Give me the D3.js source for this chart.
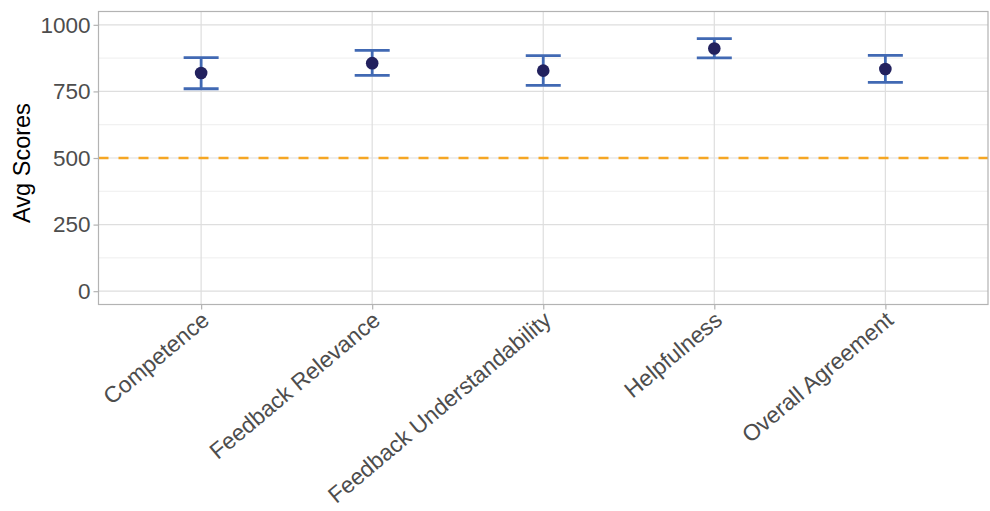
<!DOCTYPE html>
<html>
<head>
<meta charset="utf-8">
<script src="https://cdn.jsdelivr.net/npm/d3@7"></script>
<style>
  body { margin: 0; background: #fff; }
  svg { display: block; font-family: "Liberation Sans", Arial, sans-serif; }
</style>
</head>
<body>
<svg width="990" height="511"></svg>
<script>
// data
const categories = ['Competence', 'Feedback Relevance', 'Feedback Understandability', 'Helpfulness', 'Overall Agreement'];
const means = [819, 856, 828, 911, 834];
const lower = [760, 810, 773, 876, 784];
const upper = [877, 904, 884, 948, 885];
const yTicks = [0, 250, 500, 750, 1000];
const minorTicks = [125, 375, 625, 875];
const threshold = 500;

const svg = d3.select('svg');
const margin = {left: 98.5, right: 2, top: 11.5, bottom: 206.5};
const W = 990, H = 511;

// discrete x positions
const xp = d3.scalePoint()
    .domain(categories)
    .range([margin.left, W - margin.right])
    .padding(0.6);

const y = d3.scaleLinear()
    .domain([-50, 1050])
    .range([H - margin.bottom, margin.top]);

const rows = categories.map((c, i) => ({cat: c, mean: means[i], lo: lower[i], hi: upper[i]}));

// grid
const grid = svg.append('g');
grid.selectAll('line.minor').data(minorTicks).enter().append('line')
    .attr('x1', margin.left).attr('x2', W - margin.right)
    .attr('y1', d => y(d)).attr('y2', d => y(d))
    .attr('stroke', '#ececec').attr('stroke-width', 0.9);
grid.selectAll('line.major').data(yTicks).enter().append('line')
    .attr('x1', margin.left).attr('x2', W - margin.right)
    .attr('y1', d => y(d)).attr('y2', d => y(d))
    .attr('stroke', '#dedede').attr('stroke-width', 1.2);
grid.selectAll('line.vx').data(categories).enter().append('line')
    .attr('x1', d => xp(d)).attr('x2', d => xp(d))
    .attr('y1', margin.top).attr('y2', H - margin.bottom)
    .attr('stroke', '#dedede').attr('stroke-width', 1.2);

// threshold line
svg.append('line')
    .attr('x1', margin.left).attr('x2', W - margin.right)
    .attr('y1', y(threshold)).attr('y2', y(threshold))
    .attr('stroke', '#f5a623').attr('stroke-width', 2.6)
    .attr('stroke-dasharray', '10,10');

// error bars
const capW = 17.5;
const eb = svg.append('g').attr('stroke', '#4169b3').attr('stroke-width', 2.8);
eb.selectAll('line.v').data(rows).enter().append('line')
    .attr('x1', d => xp(d.cat)).attr('x2', d => xp(d.cat))
    .attr('y1', d => y(d.lo)).attr('y2', d => y(d.hi));
eb.selectAll('line.hi').data(rows).enter().append('line')
    .attr('x1', d => xp(d.cat) - capW).attr('x2', d => xp(d.cat) + capW)
    .attr('y1', d => y(d.hi)).attr('y2', d => y(d.hi));
eb.selectAll('line.lo').data(rows).enter().append('line')
    .attr('x1', d => xp(d.cat) - capW).attr('x2', d => xp(d.cat) + capW)
    .attr('y1', d => y(d.lo)).attr('y2', d => y(d.lo));

// points
svg.selectAll('circle').data(rows).enter().append('circle')
    .attr('cx', d => xp(d.cat)).attr('cy', d => y(d.mean))
    .attr('r', 6.3).attr('fill', '#22215e');

// panel border
svg.append('rect')
    .attr('x', margin.left).attr('y', margin.top)
    .attr('width', W - margin.right - margin.left)
    .attr('height', H - margin.bottom - margin.top)
    .attr('fill', 'none').attr('stroke', '#b3b3b3').attr('stroke-width', 1.2);

// y axis
const yAxis = svg.append('g')
    .attr('transform', `translate(${margin.left},0)`)
    .call(d3.axisLeft(y).tickValues(yTicks).tickFormat(d3.format('d')).tickSize(5).tickPadding(3));
yAxis.attr('font-size', null).attr('font-family', null);
yAxis.select('.domain').remove();
yAxis.selectAll('.tick line').attr('stroke', '#b3b3b3').attr('stroke-width', 1.2);
yAxis.selectAll('.tick text').attr('fill', '#4d4d4d').style('font-size', '22.5px');

// x axis
const xAxis = svg.append('g')
    .attr('transform', `translate(0,${H - margin.bottom})`)
    .call(d3.axisBottom(xp).tickSize(5).tickPadding(3));
xAxis.attr('font-size', null).attr('font-family', null);
xAxis.select('.domain').remove();
xAxis.selectAll('.tick line').attr('stroke', '#b3b3b3').attr('stroke-width', 1.2);
xAxis.selectAll('.tick text')
    .attr('fill', '#4d4d4d').style('font-size', '22.8px')
    .attr('text-anchor', 'end')
    .attr('x', 0).attr('y', 0).attr('dy', null)
    .attr('transform', 'translate(9,18) rotate(-40)');

// y title
svg.append('text')
    .attr('transform', `translate(30,163) rotate(-90)`)
    .attr('text-anchor', 'middle')
    .style('font-size', '23.5px')
    .attr('fill', '#000')
    .text('Avg Scores');
</script>
</body>
</html>
